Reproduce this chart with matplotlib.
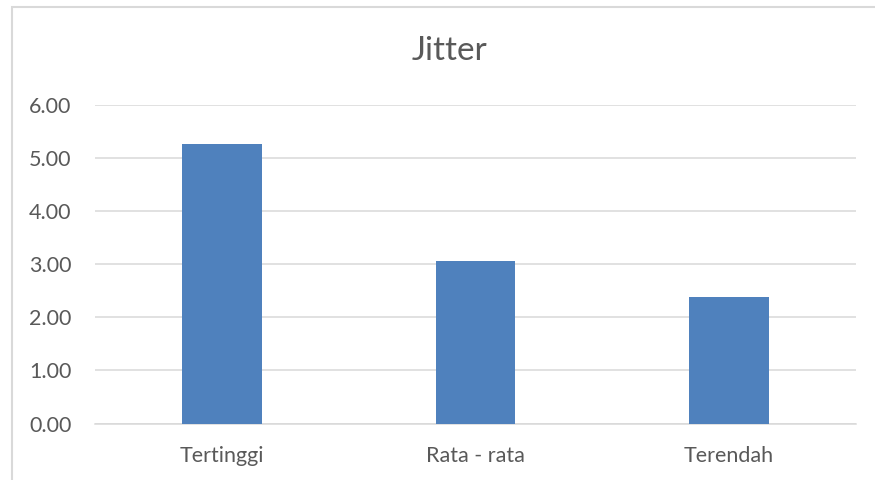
import matplotlib.pyplot as plt
from matplotlib.patches import Rectangle

categories = ['Tertinggi', 'Rata - rata', 'Terendah']
jitter = [5.26, 3.06, 2.38]
yticks = [0, 1, 2, 3, 4, 5, 6]

plt.rcParams['font.family'] = ['Lato', 'DejaVu Sans']

fig = plt.figure(figsize=(8.75, 4.8), dpi=100)
ax = fig.add_axes([95 / 875, 1 - 423.5 / 480, 761 / 875, (423.5 - 105) / 480])

ax.bar(range(len(categories)), jitter, width=0.315, color='#4f81bd', zorder=3)

ax.set_xlim(-0.5, len(categories) - 0.5)
ax.set_ylim(0, 6)
ax.set_yticks(yticks)
ax.set_yticklabels(['%.2f' % v for v in yticks])
ax.set_xticks(range(len(categories)))
ax.set_xticklabels(categories)
ax.grid(axis='y', color='#d9d9d9', linewidth=1.1, zorder=0)
for s in ['top', 'right', 'left']:
    ax.spines[s].set_visible(False)
ax.spines['bottom'].set_color('#d9d9d9')
ax.spines['bottom'].set_linewidth(1.1)
ax.tick_params(axis='both', length=0, labelsize=15.5, colors='#595959')
ax.tick_params(axis='y', pad=17)
ax.tick_params(axis='x', pad=16)

fig.text(0.514, 1 - 51 / 480, 'Jitter', ha='center', va='center',
         fontsize=24, color='#595959')

# chart border
fig.add_artist(Rectangle((12 / 875, -0.1), 1.2, 1 - 6.5 / 480 + 0.1,
                         transform=fig.transFigure, fill=False,
                         edgecolor='#d9d9d9', linewidth=1.5))

fig.savefig('out.png', dpi=100)
